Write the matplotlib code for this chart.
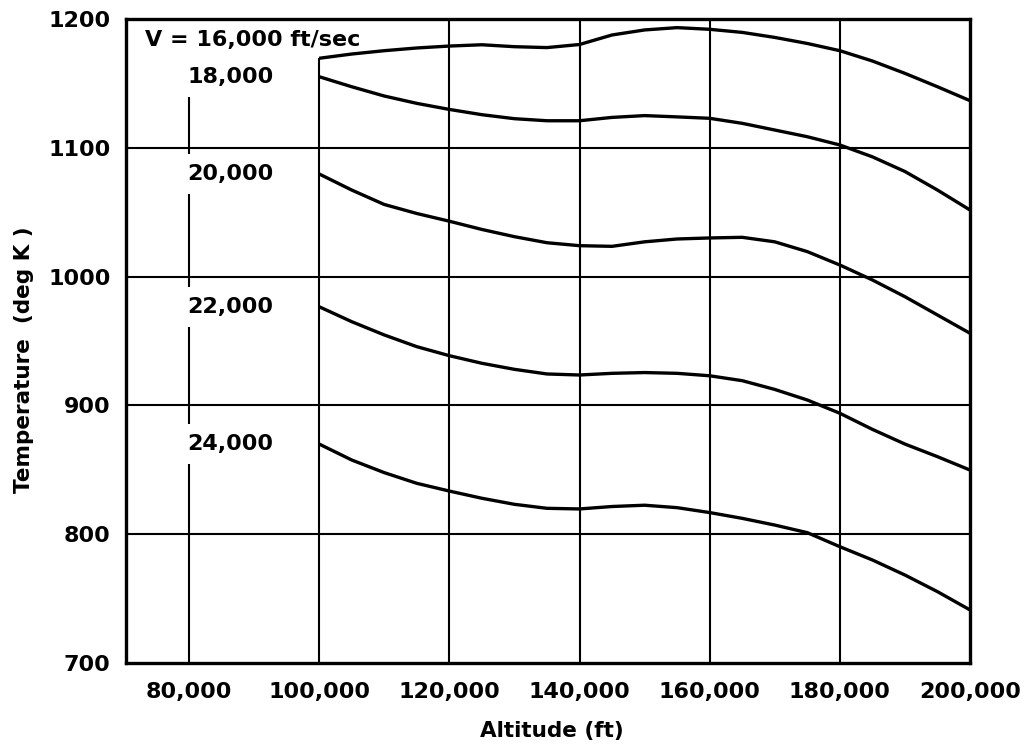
import matplotlib
matplotlib.use("Agg")
import matplotlib.pyplot as plt

# ---- data ----
altitude = [100000, 105000, 110000, 115000, 120000, 125000, 130000, 135000, 140000,
            145000, 150000, 155000, 160000, 165000, 170000, 175000, 180000, 185000,
            190000, 195000, 200000]

t_v16 = [1169.5, 1172.8, 1175.4, 1177.5, 1179.0, 1180.0, 1178.5, 1177.8, 1180.2,
         1187.6, 1191.5, 1193.3, 1192.0, 1189.6, 1185.7, 1181.0, 1175.4, 1167.4,
         1157.8, 1147.4, 1136.6]
t_v18 = [1155.2, 1147.4, 1140.2, 1134.5, 1129.8, 1125.7, 1122.6, 1121.0, 1121.0,
         1123.6, 1125.0, 1124.0, 1122.9, 1119.0, 1113.8, 1108.6, 1102.2, 1093.0,
         1081.6, 1067.2, 1051.7]
t_v20 = [1079.7, 1067.2, 1056.0, 1049.0, 1043.0, 1036.6, 1031.0, 1026.3, 1024.0,
         1023.5, 1027.0, 1029.2, 1030.0, 1030.5, 1027.0, 1019.4, 1009.0, 997.4,
         984.4, 970.2, 956.0]
t_v22 = [976.6, 965.0, 954.7, 945.6, 938.6, 932.7, 928.0, 924.4, 923.6,
         924.9, 925.5, 924.9, 923.0, 919.2, 912.4, 904.2, 893.9, 881.4,
         870.0, 860.2, 849.8]
t_v24 = [870.0, 857.6, 847.8, 839.5, 833.5, 827.9, 823.2, 820.1, 819.6,
         821.5, 822.5, 820.6, 816.8, 812.3, 807.1, 801.2, 790.3, 780.0,
         768.3, 755.4, 741.2]

series = [t_v16, t_v18, t_v20, t_v22, t_v24]
curve_labels = ["V = 16,000 ft/sec", "18,000", "20,000", "22,000", "24,000"]

x_ticks = [80000, 100000, 120000, 140000, 160000, 180000, 200000]
x_ticklabels = ["80,000", "100,000", "120,000", "140,000", "160,000", "180,000", "200,000"]
y_ticks = [700, 800, 900, 1000, 1100, 1200]
y_ticklabels = ["700", "800", "900", "1000", "1100", "1200"]

# ---- figure ----
plt.rcParams['font.family'] = ['DejaVu Sans']
plt.rcParams['font.weight'] = 'bold'

fig = plt.figure(figsize=(10.34, 7.48), dpi=100)
ax = fig.add_axes([126/1034, 1 - 663/748, (970-126)/1034, (663-19)/748])

xmin, xmax = 70320, 200000
ymin, ymax = 700, 1200
ax.set_xlim(xmin, xmax)
ax.set_ylim(ymin, ymax)

# vertical grid lines (below labels)
for xv in x_ticks[:-1]:
    if xv == 100000:
        ax.vlines(xv, ymin, t_v16[0], color='black', lw=1.5, zorder=1)
    else:
        ax.axvline(xv, color='black', lw=1.5, zorder=1)

# horizontal grid lines (above label boxes)
for yv in y_ticks[1:-1]:
    ax.axhline(yv, color='black', lw=1.5, zorder=3)

# curves
for s in series:
    ax.plot(altitude, s, color='black', lw=2.4, zorder=4, solid_capstyle='butt')

# labels
ax.text(73240, 1184, curve_labels[0], fontsize=16, fontweight='bold',
        ha='left', va='center', zorder=2,
        bbox=dict(boxstyle='square,pad=0.38', facecolor='white', edgecolor='none'))
for s, lab in zip(series[1:], curve_labels[1:]):
    ax.text(79700, s[0], lab, fontsize=16, fontweight='bold',
            ha='left', va='center', zorder=2,
            bbox=dict(boxstyle='square,pad=0.45', facecolor='white', edgecolor='none'))

ax.set_xticks(x_ticks)
ax.set_xticklabels(x_ticklabels)
ax.set_yticks(y_ticks)
ax.set_yticklabels(y_ticklabels)
ax.tick_params(axis='both', length=0, labelsize=16)
ax.tick_params(axis='x', pad=14)
ax.tick_params(axis='y', pad=11)
for lab in ax.get_xticklabels() + ax.get_yticklabels():
    lab.set_fontweight('bold')

for sp in ax.spines.values():
    sp.set_linewidth(2.4)
    sp.set_zorder(5)

ax.set_ylabel("Temperature  (deg K )", fontsize=15.5, fontweight='bold', va='center')
ax.yaxis.set_label_coords((24-126)/844, (663-360)/644)
ax.set_xlabel("Altitude (ft)", fontsize=15.5, fontweight='bold', va='center')
ax.xaxis.set_label_coords((552-126)/844, (663-731)/644)

fig.savefig("out.png", dpi=100, facecolor='white')
